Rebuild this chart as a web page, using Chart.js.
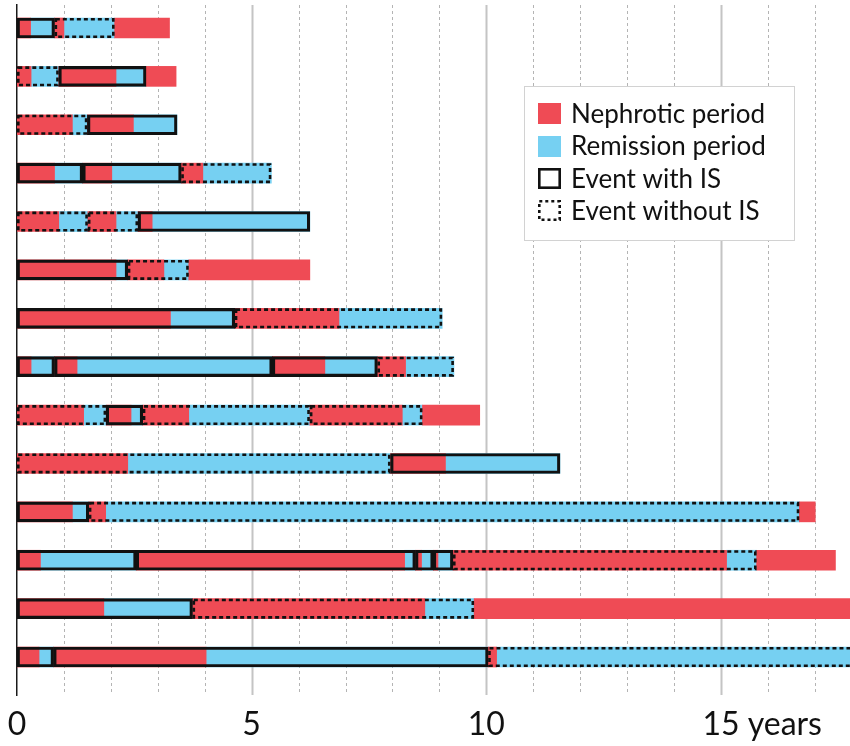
<!DOCTYPE html>
<html>
<head>
<meta charset="utf-8">
<script src="https://cdn.jsdelivr.net/npm/chart.js@4/dist/chart.umd.min.js"></script>
<style>
  html, body { margin: 0; padding: 0; background: #fff; }
  #wrap { width: 850px; height: 746px; }
</style>
</head>
<body>
<div id="wrap"><canvas id="timeline" width="850" height="746"></canvas></div>
<script>
// One row per patient (0 = top row); spans are [row, startYear, endYear]
const patientRows = 14;

const nephroticSpans = [
  [0, 0, 0.29], [0, 0.8, 1.0], [0, 2.08, 3.25],
  [1, 0, 0.3], [1, 0.89, 2.11], [1, 2.75, 3.39],
  [2, 0, 1.18], [2, 1.5, 2.48],
  [3, 0, 0.8], [3, 1.4, 2.02], [3, 3.5, 3.96],
  [4, 0, 0.89], [4, 1.51, 2.11], [4, 2.58, 2.88],
  [5, 0, 2.11], [5, 2.36, 3.13], [5, 3.66, 6.24],
  [6, 0, 3.27], [6, 4.64, 6.86],
  [7, 0, 0.3], [7, 0.8, 1.28], [7, 5.44, 6.56], [7, 7.68, 8.28],
  [8, 0, 1.42], [8, 1.9, 2.43], [8, 2.68, 3.66], [8, 6.24, 8.21], [8, 8.64, 9.86],
  [9, 0, 2.36], [9, 7.96, 9.13],
  [10, 0, 1.18], [10, 1.53, 1.89], [10, 16.67, 17.01],
  [11, 0, 0.5], [11, 2.54, 8.26], [11, 8.49, 8.62], [11, 8.87, 8.97], [11, 9.29, 15.12], [11, 15.76, 17.44],
  [12, 0, 1.85], [12, 3.74, 8.69], [12, 9.74, 18],
  [13, 0, 0.47], [13, 0.78, 4.03], [13, 10.04, 10.22]
];

const remissionSpans = [
  [0, 0.29, 0.8], [0, 1.0, 2.08],
  [1, 0.3, 0.89], [1, 2.11, 2.75],
  [2, 1.18, 1.5], [2, 2.48, 3.41],
  [3, 0.8, 1.4], [3, 2.02, 3.5], [3, 3.96, 5.42],
  [4, 0.89, 1.51], [4, 2.11, 2.58], [4, 2.88, 6.24],
  [5, 2.11, 2.36], [5, 3.13, 3.66],
  [6, 3.27, 4.64], [6, 6.86, 9.06],
  [7, 0.3, 0.8], [7, 1.28, 5.44], [7, 6.56, 7.68], [7, 8.28, 9.31],
  [8, 1.42, 1.9], [8, 2.43, 2.68], [8, 3.66, 6.24], [8, 8.21, 8.64],
  [9, 2.36, 7.96], [9, 9.13, 11.57],
  [10, 1.18, 1.53], [10, 1.89, 16.67],
  [11, 0.5, 2.54], [11, 8.26, 8.49], [11, 8.62, 8.87], [11, 8.97, 9.29], [11, 15.12, 15.76],
  [12, 1.85, 3.74], [12, 8.69, 9.74],
  [13, 0.47, 0.78], [13, 4.03, 10.04], [13, 10.22, 18]
];

const eventsWithIS = [
  [0, 0, 0.8],
  [1, 0.89, 2.75],
  [2, 1.5, 3.41],
  [3, 0, 1.4], [3, 1.4, 3.5],
  [4, 2.58, 6.24],
  [5, 0, 2.36],
  [6, 0, 4.64],
  [7, 0, 0.8], [7, 0.8, 5.44], [7, 5.44, 7.68],
  [8, 1.9, 2.68],
  [9, 7.96, 11.57],
  [10, 0, 1.53],
  [11, 0, 2.54], [11, 2.54, 8.49], [11, 8.49, 8.87], [11, 8.87, 9.29],
  [12, 0, 3.74],
  [13, 0, 0.78], [13, 0.78, 10.04]
];

const eventsWithoutIS = [
  [0, 0.8, 2.08],
  [1, 0, 0.89],
  [2, 0, 1.5],
  [3, 3.5, 5.42],
  [4, 0, 1.51], [4, 1.51, 2.58],
  [5, 2.36, 3.66],
  [6, 4.64, 9.06],
  [7, 7.68, 9.31],
  [8, 0, 1.9], [8, 2.68, 6.24], [8, 6.24, 8.64],
  [9, 0, 7.96],
  [10, 1.53, 16.67],
  [11, 9.29, 15.76],
  [12, 3.74, 9.74],
  [13, 10.04, 18]
];

const axisMaxYears = 17.75;
const labelledYears = [0, 5, 10, 15];
const yearUnit = 'years';

const seriesNames = ['Nephrotic period', 'Remission period', 'Event with IS', 'Event without IS'];
const RED = '#ef4b55';
const BLUE = '#76d0f2';
const INK = '#111111';

const toBars = spans => spans.map(([row, start, end]) => ({ x: [start, end], y: row }));

// Vertical year grid: dashed every year, solid every five years
const yearGrid = {
  id: 'yearGrid',
  beforeDatasetsDraw(chart) {
    const { ctx, chartArea: a, scales: { x } } = chart;
    ctx.save();
    for (let yr = 1; yr <= Math.floor(axisMaxYears); yr++) {
      const px = Math.round(x.getPixelForValue(yr)) + 0.5;
      ctx.beginPath();
      if (yr % 5 === 0) {
        ctx.setLineDash([]);
        ctx.strokeStyle = '#c4c4c4';
        ctx.lineWidth = 2;
      } else {
        ctx.setLineDash([3, 3]);
        ctx.strokeStyle = '#b4b4b4';
        ctx.lineWidth = 1;
      }
      ctx.moveTo(px, a.top);
      ctx.lineTo(px, a.bottom);
      ctx.stroke();
    }
    ctx.restore();
  }
};

// Dashed outline for events without immunosuppression
const dashedEvents = {
  id: 'dashedEvents',
  afterDatasetsDraw(chart) {
    const { ctx, chartArea: a } = chart;
    chart.data.datasets.forEach((ds, i) => {
      if (!ds.dashedOutline) return;
      const meta = chart.getDatasetMeta(i);
      const lw = 2.6;
      ctx.save();
      ctx.beginPath();
      ctx.rect(a.left, a.top - 2, a.right - a.left + 2, a.bottom - a.top + 4);
      ctx.clip();
      ctx.strokeStyle = INK;
      ctx.lineWidth = lw;
      ctx.setLineDash([4, 3]);
      meta.data.forEach(el => {
        const p = el.getProps(['x', 'y', 'base', 'height'], true);
        const left = Math.min(p.x, p.base), right = Math.max(p.x, p.base);
        const top = p.y - p.height / 2;
        ctx.strokeRect(left + lw / 2, top + lw / 2, right - left - lw, p.height - lw);
      });
      ctx.restore();
    });
  }
};

// Year labels under the axis, plus the in-plot legend box
const labelsAndKey = {
  id: 'labelsAndKey',
  afterDraw(chart) {
    const { ctx, scales: { x } } = chart;
    ctx.save();
    ctx.fillStyle = INK;
    ctx.textBaseline = 'alphabetic';
    ctx.textAlign = 'left';
    ctx.font = '32px Lato';
    labelledYears.forEach((yr, i) => {
      const num = String(yr);
      const w = ctx.measureText(num).width;
      const text = i === labelledYears.length - 1 ? num + ' ' + yearUnit : num;
      ctx.fillText(text, x.getPixelForValue(yr) - w / 2, 735);
    });

    // legend box
    const bx = 524.5, by = 86.5, bw = 270, bh = 154;
    ctx.fillStyle = '#ffffff';
    ctx.fillRect(bx, by, bw, bh);
    ctx.strokeStyle = '#d2d2d2';
    ctx.lineWidth = 1;
    ctx.strokeRect(bx, by, bw, bh);

    const sx = 538, sw = 23, sh = 21;
    const rowsY = [103, 136, 168, 200];
    const baseY = [123, 155, 188, 220];
    ctx.fillStyle = RED;
    ctx.fillRect(sx, rowsY[0], sw, sh);
    ctx.fillStyle = BLUE;
    ctx.fillRect(sx, rowsY[1], sw, sh);
    ctx.strokeStyle = INK;
    ctx.lineWidth = 2.6;
    ctx.strokeRect(sx + 1.3, rowsY[2] + 1.3, sw - 2.6, sh - 2.6);
    ctx.setLineDash([3, 3]);
    ctx.strokeRect(sx + 1.3, rowsY[3] + 1.3, sw - 2.6, sh - 2.6);
    ctx.setLineDash([]);

    ctx.fillStyle = INK;
    ctx.font = '26px Lato';
    seriesNames.forEach((name, i) => ctx.fillText(name, 571, baseY[i]));
    ctx.restore();
  }
};

new Chart(document.getElementById('timeline'), {
  type: 'bar',
  data: {
    datasets: [
      {
        label: seriesNames[2],
        data: toBars(eventsWithIS),
        backgroundColor: 'rgba(0,0,0,0)',
        borderColor: INK,
        borderWidth: 2.5,
        borderSkipped: false,
        order: 0
      },
      {
        label: seriesNames[3],
        data: toBars(eventsWithoutIS),
        backgroundColor: 'rgba(0,0,0,0)',
        borderWidth: 0,
        dashedOutline: true,
        order: 1
      },
      {
        label: seriesNames[0],
        data: toBars(nephroticSpans),
        backgroundColor: RED,
        borderWidth: 0,
        order: 2
      },
      {
        label: seriesNames[1],
        data: toBars(remissionSpans),
        backgroundColor: BLUE,
        borderWidth: 0,
        order: 2
      }
    ]
  },
  options: {
    indexAxis: 'y',
    responsive: false,
    animation: false,
    events: [],
    datasets: { bar: { grouped: false, barThickness: 20 } },
    layout: { padding: { left: 17, right: 0, top: 5, bottom: 51 } },
    scales: {
      x: {
        type: 'linear',
        display: false,
        offset: false,
        min: 0,
        max: axisMaxYears
      },
      y: {
        type: 'linear',
        reverse: true,
        offset: false,
        grace: 0,
        min: -0.475,
        max: patientRows - 1 + 0.785,
        ticks: { display: false },
        grid: { display: false, drawTicks: false, offset: false },
        border: { display: true, color: '#1a1a1a', width: 1.5 },
        afterFit(scale) { scale.width = 0; }
      }
    },
    plugins: {
      legend: { display: false },
      tooltip: { enabled: false }
    }
  },
  plugins: [yearGrid, dashedEvents, labelsAndKey]
});
</script>
</body>
</html>
